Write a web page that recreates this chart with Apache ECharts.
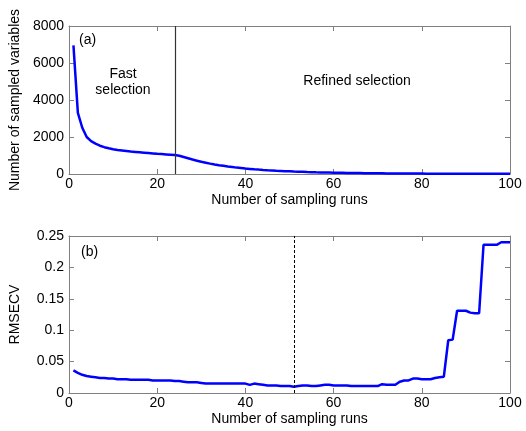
<!DOCTYPE html>
<html>
<head>
<meta charset="utf-8">
<script src="https://cdn.jsdelivr.net/npm/echarts@6/dist/echarts.min.js"></script>
<style>
  html, body { margin: 0; padding: 0; background: #fff; }
  #chart { width: 526px; height: 431px; }
</style>
</head>
<body>
<div id="chart"></div>
<script>
// sampling run index 1..100
var runs = Array.from({ length: 100 }, function (_, i) { return i + 1; });

// (a) number of sampled variables per run
var sampledVars = [
  6950, 3300, 2500, 2000, 1780, 1640, 1530, 1450, 1390, 1340,
  1300, 1270, 1240, 1210, 1190, 1170, 1150, 1130, 1110, 1090,
  1075, 1060, 1045, 1030, 990, 920, 850, 780, 720, 660,
  610, 560, 515, 475, 440, 405, 375, 345, 320, 295,
  275, 255, 237, 220, 204, 190, 176, 164, 152, 142,
  132, 123, 115, 107, 100, 93, 87, 81, 76, 71,
  66, 62, 58, 54, 51, 48, 45, 42, 39, 37,
  35, 33, 31, 29, 27, 26, 24, 23, 22, 21,
  20, 19, 18, 17, 16, 15, 15, 14, 13, 13,
  12, 12, 11, 11, 10, 10, 10, 9, 9, 9
];

// (b) RMSECV per run
var rmsecv = [
  0.036, 0.032, 0.029, 0.027, 0.026, 0.025, 0.024, 0.024, 0.023, 0.023,
  0.022, 0.022, 0.022, 0.021, 0.021, 0.021, 0.021, 0.021, 0.020, 0.020,
  0.020, 0.020, 0.020, 0.019, 0.019, 0.018, 0.017, 0.017, 0.017, 0.016,
  0.015, 0.015, 0.015, 0.015, 0.015, 0.015, 0.015, 0.015, 0.015, 0.015,
  0.013, 0.015, 0.014, 0.013, 0.012, 0.012, 0.012, 0.011, 0.011, 0.011,
  0.010, 0.011, 0.012, 0.012, 0.011, 0.011, 0.012, 0.013, 0.013, 0.012,
  0.012, 0.012, 0.012, 0.011, 0.011, 0.011, 0.011, 0.011, 0.011, 0.011,
  0.014, 0.013, 0.013, 0.013, 0.018, 0.020, 0.020, 0.023, 0.023, 0.022,
  0.022, 0.022, 0.024, 0.025, 0.026, 0.084, 0.085, 0.131, 0.131, 0.131,
  0.128, 0.127, 0.127, 0.236, 0.236, 0.236, 0.236, 0.240, 0.240, 0.240
];

var splitRunA = 24;   // end of fast selection
var bestRunB = 51;    // minimum RMSECV

var FONT = 'Liberation Sans';
var FS = 14;
var FRAME = '#808080';

function pairs(ys) {
  return runs.map(function (r, i) { return [r, ys[i]]; });
}

function mainX(gridIndex) {
  return {
    type: 'value', gridIndex: gridIndex, min: 0, max: 100, interval: 20,
    name: 'Number of sampling runs', nameLocation: 'middle', nameGap: 19,
    nameTextStyle: { fontFamily: FONT, fontSize: FS, color: '#000' },
    axisLine: { show: true, onZero: false, lineStyle: { color: FRAME } },
    axisTick: { inside: true, length: 5, lineStyle: { color: FRAME } },
    axisLabel: { fontFamily: FONT, fontSize: FS, color: '#000', margin: 3 },
    splitLine: { show: false }
  };
}
function sideX(gridIndex) {
  return {
    type: 'value', gridIndex: gridIndex, position: 'top', min: 0, max: 100, interval: 20,
    axisLine: { show: true, onZero: false, lineStyle: { color: FRAME } },
    axisTick: { inside: true, length: 5, lineStyle: { color: FRAME } },
    axisLabel: { show: false }, splitLine: { show: false }
  };
}
function mainY(gridIndex, max, interval, name, gap) {
  return {
    type: 'value', gridIndex: gridIndex, min: 0, max: max, interval: interval,
    name: name, nameLocation: 'middle', nameGap: gap,
    nameTextStyle: { fontFamily: FONT, fontSize: FS, color: '#000' },
    axisLine: { show: true, onZero: false, lineStyle: { color: FRAME } },
    axisTick: { inside: true, length: 5, lineStyle: { color: FRAME } },
    axisLabel: {
      fontFamily: FONT, fontSize: FS, color: '#000', margin: 5,
      formatter: function (v) { return String(+v.toFixed(4)); }
    },
    splitLine: { show: false }
  };
}
function sideY(gridIndex, max, interval) {
  return {
    type: 'value', gridIndex: gridIndex, position: 'right', min: 0, max: max, interval: interval,
    axisLine: { show: true, onZero: false, lineStyle: { color: FRAME } },
    axisTick: { inside: true, length: 5, lineStyle: { color: FRAME } },
    axisLabel: { show: false }, splitLine: { show: false }
  };
}

function label(text, x, y, align) {
  return {
    type: 'text', x: x, y: y,
    style: { text: text, font: FS + 'px ' + FONT, fill: '#000', align: align || 'left', verticalAlign: 'middle', lineHeight: 16 }
  };
}

var chart = echarts.init(document.getElementById('chart'));
chart.setOption({
  animation: false,
  backgroundColor: '#fff',
  grid: [
    { left: 67, right: 16, top: 26, height: 148 },
    { left: 67, right: 16, top: 236, height: 157 }
  ],
  xAxis: [mainX(0), sideX(0), mainX(1), sideX(1)],
  yAxis: [
    mainY(0, 8000, 2000, 'Number of sampled variables', 47),
    sideY(0, 8000, 2000),
    mainY(1, 0.25, 0.05, 'RMSECV', 47),
    sideY(1, 0.25, 0.05)
  ],
  graphic: [
    label('(a)', 79, 40),
    label('Fast\nselection', 123, 82, 'center'),
    label('Refined selection', 357, 81, 'center'),
    label('(b)', 81, 252)
  ],
  series: [
    {
      type: 'line', xAxisIndex: 0, yAxisIndex: 0, data: pairs(sampledVars),
      showSymbol: false, lineStyle: { color: '#0000ff', width: 2.5 },
      markLine: {
        silent: true, symbol: 'none', label: { show: false },
        lineStyle: { color: '#333', type: 'solid', width: 1.2 },
        data: [{ xAxis: splitRunA }]
      }
    },
    {
      type: 'line', xAxisIndex: 2, yAxisIndex: 2, data: pairs(rmsecv),
      showSymbol: false, lineStyle: { color: '#0000ff', width: 2.5 },
      markLine: {
        silent: true, symbol: 'none', label: { show: false },
        lineStyle: { color: '#000', type: [3, 2], width: 1 },
        data: [{ xAxis: bestRunB }]
      }
    }
  ]
});
</script>
</body>
</html>
